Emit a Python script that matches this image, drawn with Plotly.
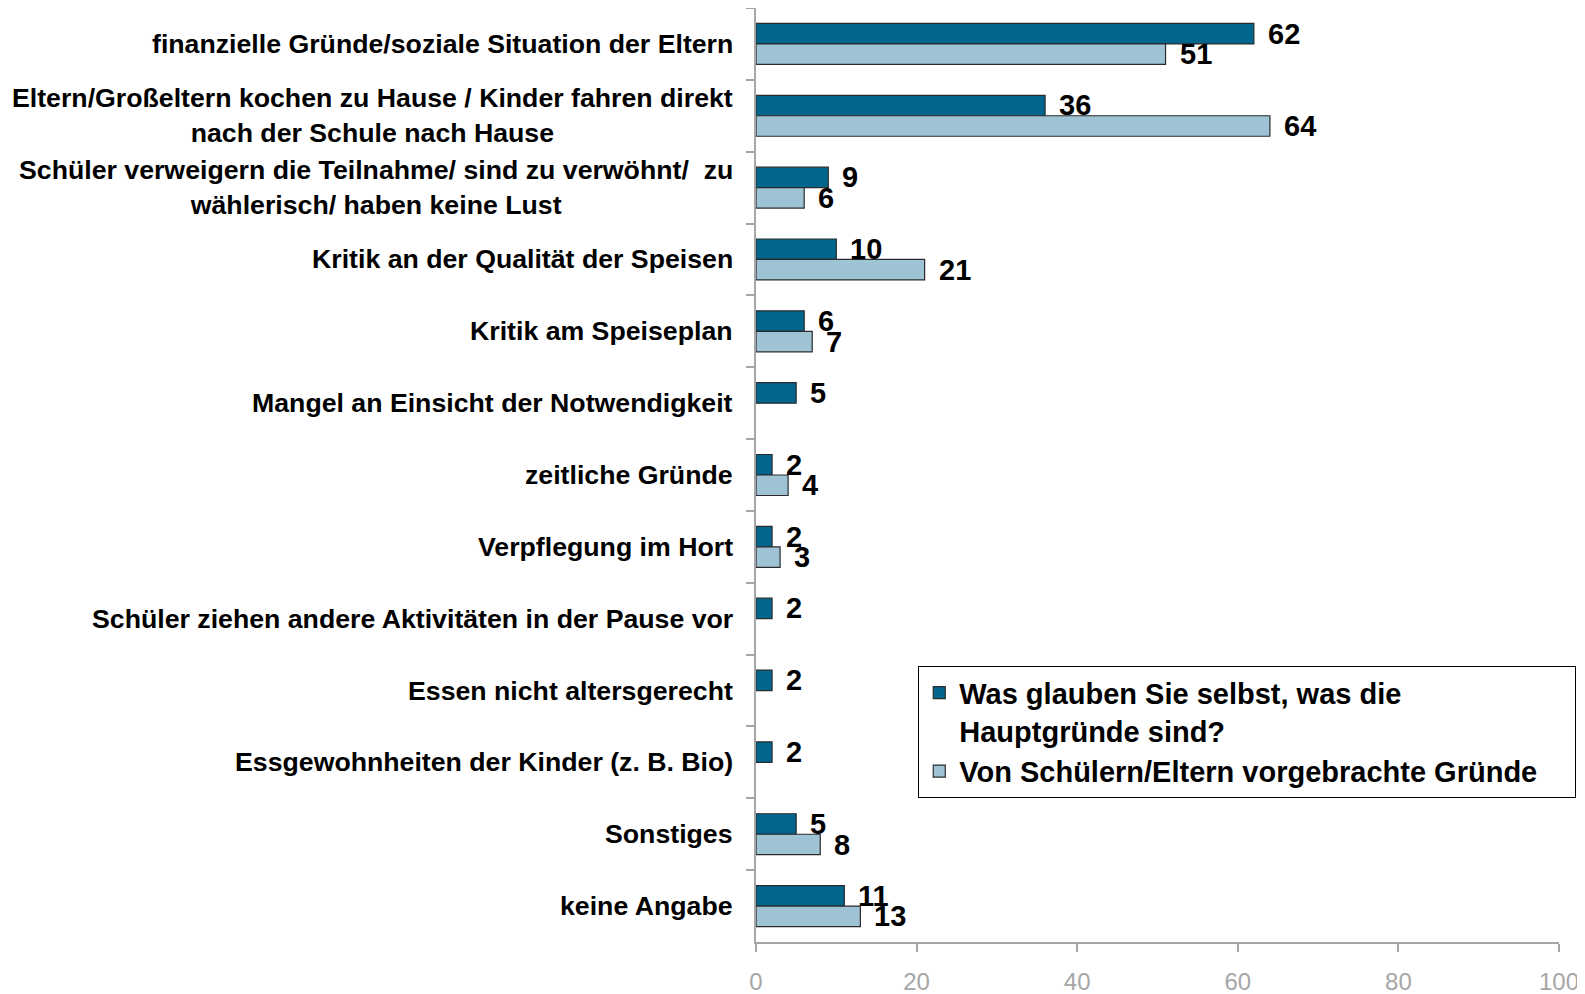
import plotly.graph_objects as go

categories = [
    "finanzielle Gründe/soziale Situation der Eltern",
    "Eltern/Großeltern kochen zu Hause / Kinder fahren direkt<br>nach der Schule nach Hause",
    "Schüler verweigern die Teilnahme/ sind zu verwöhnt/  zu<br>wählerisch/ haben keine Lust",
    "Kritik an der Qualität der Speisen",
    "Kritik am Speiseplan",
    "Mangel an Einsicht der Notwendigkeit",
    "zeitliche Gründe",
    "Verpflegung im Hort",
    "Schüler ziehen andere Aktivitäten in der Pause vor",
    "Essen nicht altersgerecht",
    "Essgewohnheiten der Kinder (z. B. Bio)",
    "Sonstiges",
    "keine Angabe",
]
series_names = [
    "Was glauben Sie selbst, was die<br>Hauptgründe sind?",
    "Von Schülern/Eltern vorgebrachte Gründe\u00a0\u00a0\u00a0\u00a0",
]
values_selbst = [62, 36, 9, 10, 6, 5, 2, 2, 2, 2, 2, 5, 11]
values_vorgebracht = [51, 64, 6, 21, 7, None, 4, 3, None, None, None, 8, 13]
x_ticks = [0, 20, 40, 60, 80, 100]

colors = ["#00668E", "#9DC3D4"]
FONT = "Liberation Sans, Arial, sans-serif"

fig = go.Figure()
for name, vals, col in zip(series_names, [values_selbst, values_vorgebracht], colors):
    fig.add_trace(go.Bar(
        y=categories, x=vals, name=name, orientation="h",
        marker=dict(color=col, line=dict(color="#2b2b2b", width=1.2)),
    ))

annotations = []
# category labels (centered multi-line, right-anchored)
for c in categories:
    annotations.append(dict(
        x=0, xref="paper", y=c, yref="y", text=c, showarrow=False,
        xanchor="right", yanchor="middle", align="center", xshift=-21,
        font=dict(family=FONT, size=26.7, color="#000000", weight="bold"),
    ))
# value labels
for vals, ysh in [(values_selbst, 10.3), (values_vorgebracht, -10.3)]:
    for c, v in zip(categories, vals):
        if v is None:
            continue
        annotations.append(dict(
            x=v, xref="x", y=c, yref="y", text=str(v), showarrow=False,
            xanchor="left", yanchor="middle", xshift=12, yshift=ysh,
            font=dict(family=FONT, size=29, color="#000000", weight="bold"),
        ))

fig.update_layout(
    width=1577, height=986,
    margin=dict(l=748, r=26, t=0, b=52, autoexpand=False),
    paper_bgcolor="white", plot_bgcolor="white",
    barmode="group", bargap=0.43, bargroupgap=0,
    showlegend=True,
    legend=dict(
        x=0.2017, y=0.2955, xanchor="left", yanchor="top",
        bordercolor="#000000", borderwidth=1.3, bgcolor="white",
        font=dict(family=FONT, size=29, color="#000000", weight="bold"),
        traceorder="normal", valign="top", tracegroupgap=0,
        itemwidth=30,
    ),
    xaxis=dict(
        range=[0, 100], tickvals=x_ticks, showgrid=False, zeroline=False,
        showline=True, linecolor="#A6A6A6", linewidth=1.5,
        ticks="outside", ticklen=8, tickcolor="#A6A6A6", tickwidth=1.5,
        tickfont=dict(family=FONT, size=24, color="#A6A6A6"),
        ticklabelstandoff=9, automargin=False, ticklabeloverflow="allow",
    ),
    yaxis=dict(
        autorange="reversed", showgrid=False, zeroline=False,
        showline=True, linecolor="#A6A6A6", linewidth=1.5,
        ticks="outside", ticklen=8, tickcolor="#A6A6A6", tickwidth=1.5,
        tickson="boundaries", showticklabels=False, automargin=False,
    ),
    annotations=annotations,
)

fig.write_html("out.html")
